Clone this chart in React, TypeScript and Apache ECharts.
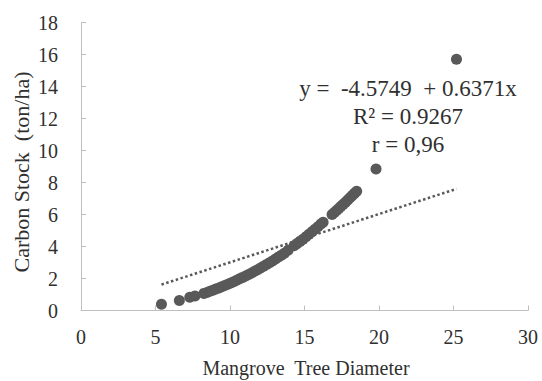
import React, { useEffect, useRef } from "react";
import * as echarts from "echarts";

const diameter = [5.4, 6.6, 7.3, 7.65, 8.25, 8.45, 8.65, 8.85, 9.05, 9.25, 9.45, 9.65, 9.85, 10.05, 10.25, 10.45, 10.65, 10.85, 11.05, 11.25, 11.45, 11.65, 11.85, 12.05, 12.25, 12.45, 12.65, 12.85, 13.05, 13.25, 13.45, 13.65, 13.9, 14.3, 14.5, 14.7, 14.9, 15.1, 15.3, 15.5, 15.7, 15.9, 16.1, 16.25, 16.85, 17.0, 17.15, 17.3, 17.45, 17.6, 17.75, 17.9, 18.05, 18.2, 18.35, 18.5, 19.8, 25.2];
const carbon = [0.39, 0.63, 0.83, 0.9, 1.07, 1.13, 1.2, 1.27, 1.34, 1.41, 1.48, 1.56, 1.64, 1.72, 1.8, 1.89, 1.98, 2.07, 2.16, 2.25, 2.35, 2.45, 2.55, 2.66, 2.77, 2.88, 2.99, 3.1, 3.22, 3.34, 3.46, 3.58, 3.76, 4.05, 4.18, 4.32, 4.46, 4.61, 4.76, 4.92, 5.08, 5.24, 5.4, 5.52, 6.0, 6.12, 6.25, 6.38, 6.51, 6.64, 6.77, 6.9, 7.04, 7.18, 7.32, 7.46, 8.85, 15.7];

const trendX = [5.4, 25.2];
const trendY = [1.62, 7.6];

const equationLines = ["y =  -4.5749  + 0.6371x", "R\u00b2 = 0.9267", "r = 0,96"];
const xTitle = "Mangrove  Tree Diameter";
const yTitle = "Carbon Stock  (ton/ha)";

const FONT = "Liberation Serif";
const INK = "#595959";
const AXIS = "#bfbfbf";
const TEXT = "#303030";

export default function App() {
  const ref = useRef<HTMLDivElement>(null);
  useEffect(() => {
    if (!ref.current) return;
    const chart = echarts.init(ref.current, undefined, { renderer: "svg" });
    const points = diameter.map((d, i) => [d, carbon[i]]);
    const trend = trendX.map((d, i) => [d, trendY[i]]);
    chart.setOption({
      animation: false,
      backgroundColor: "#ffffff",
      grid: { left: 81, right: 14, top: 22.5, bottom: 70.5, containLabel: false, outerBoundsMode: "none" },
      xAxis: {
        type: "value",
        min: 0,
        max: 30,
        interval: 5,
        axisLine: { show: true, lineStyle: { color: AXIS, width: 1 } },
        axisTick: { show: true, inside: true, length: 5, lineStyle: { color: AXIS } },
        splitLine: { show: false },
        axisLabel: { color: TEXT, fontFamily: FONT, fontSize: 20, margin: 16 },
      },
      yAxis: {
        type: "value",
        min: 0,
        max: 18,
        interval: 2,
        axisLine: { show: true, lineStyle: { color: AXIS, width: 1 } },
        axisTick: { show: true, inside: true, length: 5, lineStyle: { color: AXIS } },
        splitLine: { show: false },
        axisLabel: { color: TEXT, fontFamily: FONT, fontSize: 20, margin: 23 },
      },
      series: [
        {
          type: "scatter",
          data: points,
          symbol: "circle",
          symbolSize: 11,
          itemStyle: { color: INK, opacity: 1 },
          z: 2,
        },
        {
          type: "line",
          data: trend,
          symbol: "none",
          lineStyle: { color: INK, width: 2.5, type: [2.5, 2.5] },
          z: 3,
        },
      ],
      graphic: [
        {
          type: "text",
          x: 21,
          y: 172,
          rotation: Math.PI / 2,
          style: { text: yTitle, fill: TEXT, font: `22px ${FONT}`, align: "center", verticalAlign: "middle" },
        },
        {
          type: "text",
          x: 306,
          y: 368,
          style: { text: xTitle, fill: TEXT, font: `20px ${FONT}`, align: "center", verticalAlign: "middle" },
        },
        ...equationLines.map((t, i) => ({
          type: "text",
          x: 408,
          y: 88 + i * 28,
          style: { text: t, fill: TEXT, font: `23px ${FONT}`, align: "center", verticalAlign: "middle" },
        })),
      ],
    });
    return () => chart.dispose();
  }, []);
  return <div ref={ref} style={{ position: "fixed", left: 0, top: 0, width: 542, height: 381 }} />;
}
